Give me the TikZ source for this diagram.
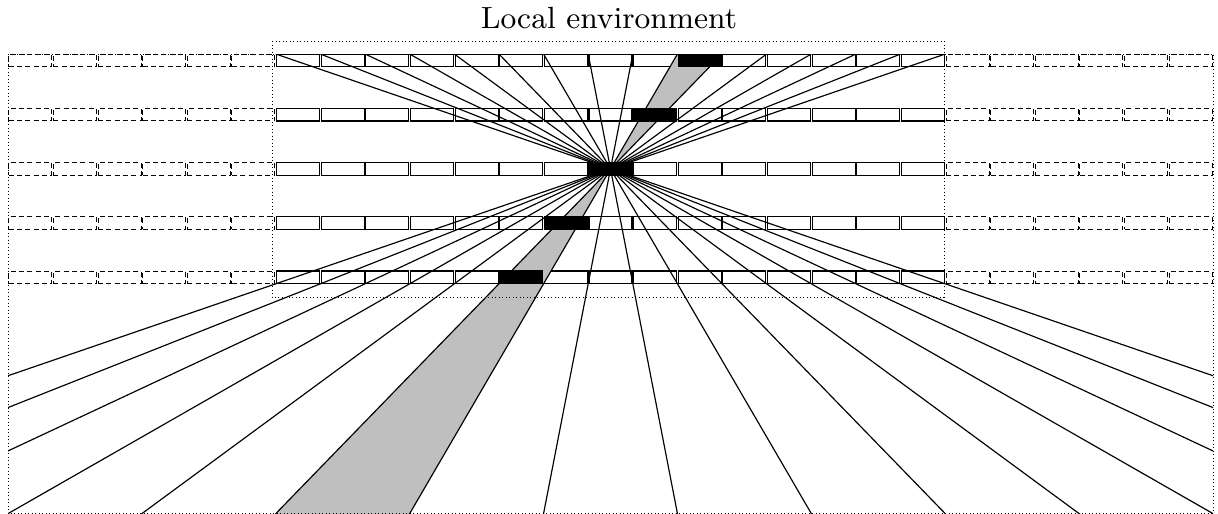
\documentclass[tikz,border=0pt]{standalone}
\usepackage{tikz}
\usetikzlibrary{calc}
\definecolor{beamGrey}{HTML}{bfbfbf}

\begin{document}
\begin{tikzpicture}[x=0.3pt, y=-0.3pt, line width=0.35pt,
  cellbox/.style={draw, inner sep=0pt, minimum width=12.9pt, minimum height=3.75pt},
  ghostcell/.style={cellbox, line width=0.3pt, dash pattern=on 1.5pt off 1pt},
  dotline/.style={line width=0.3pt, dash pattern=on 0.3pt off 0.75pt}]
\useasboundingbox (0,0) rectangle (1218,513);
\def\pitch{44.63}
% top corners of the first row inside the environment
\foreach \i in {0,...,15}
  \coordinate (A\i) at ({8+(6+\i)*\pitch},54);

% cells, five rows
\foreach \r in {0,...,4}{
  \foreach \k in {0,...,5,21,22,...,26}
    \node[ghostcell] (c\r-\k) at ({8+(\k+0.5)*\pitch},{60.5+\r*54.2}) {};
  \foreach \k in {6,...,20}
    \node[cellbox] (c\r-\k) at ({8+(\k+0.5)*\pitch},{60.5+\r*54.2}) {};
}

% grey beam through the centre cell
\begin{scope}
\clip (8,54) rectangle (1213,513);
\fill[beamGrey] (A9) -- (A10) -- ($(A10)!6!(c2-13.center)$) -- ($(A9)!6!(c2-13.center)$) -- cycle;
\end{scope}

% hit cells
\foreach \r in {0,...,4}{
  \pgfmathtruncatemacro{\hit}{15-\r}
  \fill (c\r-\hit.north west) rectangle (c\r-\hit.south east);
}

% rays
\begin{scope}
\clip (8,54) rectangle (1213,513);
\foreach \i in {0,...,15}
  \draw (A\i) -- ($(A\i)!6!(c2-13.center)$);
\end{scope}

\draw[dotline] (8,54) rectangle (1213,513);
\draw[dotline] (272,41) rectangle (944,297);
\node[anchor=base, inner sep=0pt, font=\fontsize{9.2pt}{11pt}\selectfont] (title) at (609,28) {Local environment};
\end{tikzpicture}
\end{document}
